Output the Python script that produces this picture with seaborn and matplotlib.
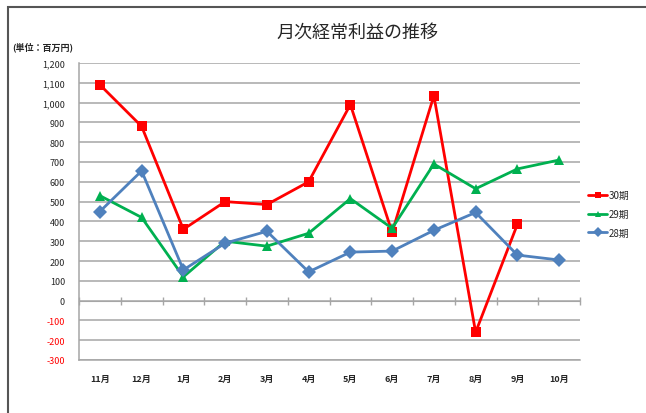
import pandas as pd
import matplotlib
matplotlib.use("Agg")
import matplotlib.pyplot as plt
import matplotlib.patches as patches
import seaborn as sns

# 月次経常利益（百万円）
months = ["11月", "12月", "1月", "2月", "3月", "4月", "5月", "6月", "7月", "8月", "9月", "10月"]
ki30 = [1090, 880, 360, 500, 485, 600, 990, 345, 1035, -160, 385, None]
ki29 = [530, 420, 120, 300, 275, 340, 515, 365, 690, 565, 665, 710]
ki28 = [450, 655, 155, 290, 350, 145, 245, 250, 355, 445, 230, 205]
series = ["30期", "29期", "28期"]
yticks = list(range(-300, 1201, 100))

rows = []
for name, vals in zip(series, [ki30, ki29, ki28]):
    for i, v in enumerate(vals):
        rows.append({"idx": i, "月": months[i], "期": name, "値": v})
df = pd.DataFrame(rows).dropna()

sns.set_style("white")
plt.rcParams["font.family"] = ["Noto Sans CJK JP", "DejaVu Sans"]

fig = plt.figure(figsize=(6.46, 4.14), dpi=100)
ax = fig.add_axes([79 / 646, 1 - 361 / 414, 501 / 646, 297 / 414])

palette = {"30期": "#FF0000", "29期": "#00B050", "28期": "#4F81BD"}
markers = {"30期": "s", "29期": "^", "28期": "D"}
sns.lineplot(data=df, x="idx", y="値", hue="期", style="期", hue_order=series,
             palette=palette, markers=markers, dashes=False, linewidth=2,
             markersize=7, markeredgewidth=0, ax=ax)

ax.set_xlim(-0.5, 11.5)
ax.set_ylim(-300, 1200)
ax.set_yticks(yticks)
ax.set_yticklabels([f"{v:,}" for v in yticks], fontsize=6.5)
for lab, v in zip(ax.get_yticklabels(), yticks):
    if v < 0:
        lab.set_color("#FF0000")
ax.set_xticks(range(12))
ax.set_xticklabels(months, fontsize=6.5, fontweight="bold")
ax.tick_params(axis="both", length=0, pad=10)
ax.set_xlabel("")
ax.set_ylabel("")
ax.yaxis.grid(True, color="#A6A6A6", linewidth=1.1)
ax.set_axisbelow(True)
for side in ["top", "right"]:
    ax.spines[side].set_visible(False)
for side in ["left", "bottom"]:
    ax.spines[side].set_color("#A6A6A6")
    ax.spines[side].set_linewidth(1.1)

# 0の位置の横軸目盛
sec = ax.secondary_xaxis(0.2)
sec.set_xticks([i - 0.5 for i in range(13)])
sec.set_xticklabels([])
sec.tick_params(length=6, direction="inout", color="#A6A6A6", width=1)
sec.spines["bottom"].set_color("#A6A6A6")

handles, labels = ax.get_legend_handles_labels()
ax.get_legend().remove()
for h in handles:
    h.set_markersize(5)
fig.legend(handles, labels, loc="center left",
           bbox_to_anchor=(588 / 646, 1 - 215 / 414), frameon=False,
           fontsize=7, handlelength=2.0, handletextpad=0.1,
           labelspacing=0.9, borderpad=0, borderaxespad=0)

fig.text(357 / 646, 1 - 33 / 414, "月次経常利益の推移", ha="center", va="center", fontsize=13)
fig.text(12 / 646, 1 - 47 / 414, "(単位：百万円)", ha="left", va="center",
         fontsize=6.5, fontweight="bold")

fig.patches.append(patches.Rectangle((8 / 646, -0.1), 1.1, 1.1 - 8 / 414,
                                     transform=fig.transFigure, fill=False,
                                     edgecolor="#555555", linewidth=1.5))

fig.savefig("out.png", dpi=100)
